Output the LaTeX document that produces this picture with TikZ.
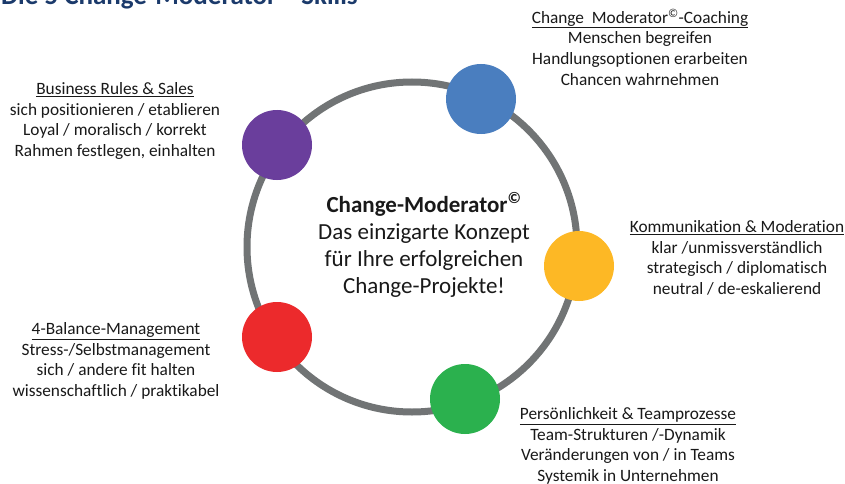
\documentclass[tikz,border=0pt]{standalone}
\usepackage{fontspec}
\setmainfont{Carlito}[Ligatures={NoCommon,TeX}]
\begin{document}
\begin{tikzpicture}[x=1pt,y=-1pt,
  dot/.style={circle,minimum size=70pt,inner sep=0pt},
  skill/.style={align=center,font=\fontsize{17.3}{20.6}\selectfont,text=black!90,inner sep=0pt},
  core/.style={align=center,font=\fontsize{23}{27.2}\selectfont,text=black!90,inner sep=0pt}]
\definecolor{ringgray}{HTML}{717475}
\definecolor{cpurple}{HTML}{6A3E9C}
\definecolor{cblue}{HTML}{4A7EBF}
\definecolor{cyellow}{HTML}{FDB825}
\definecolor{cred}{HTML}{EC2A2C}
\definecolor{cgreen}{HTML}{2BB14E}
\definecolor{titleblue}{HTML}{1B3A6B}
\clip (0,0) rectangle (845,484);
\useasboundingbox (0,0) rectangle (845,484);
\fill[white] (0,0) rectangle (845,484);

% heading, cut by the upper edge
\node[anchor=base west,inner sep=0pt,text=titleblue,font=\fontsize{27}{30}\selectfont\bfseries] (title) at (1,5) {Die 5 Change-Moderator\textsuperscript{©}-Skills};

% ring carrying the five skills
\node[circle,draw=ringgray,line width=7pt,minimum size=330pt,inner sep=0pt] (ring) at (412,247) {};

\node[dot,fill=cpurple] (purple) at (277,145) {};
\node[dot,fill=cblue]   (blue)   at (481,99)  {};
\node[dot,fill=cyellow] (yellow) at (579,266) {};
\node[dot,fill=cgreen]  (green)  at (465,399) {};
\node[dot,fill=cred]    (red)    at (277,337) {};

% centre statement
\node[core] (core) at (424,245) {\textbf{Change-Moderator\textsuperscript{©}}\\Das einzigarte Konzept\\für Ihre erfolgreichen\\Change-Projekte!};

% skill descriptions
\node[skill] (coaching) at (640,47) {\underline{Change\ \ Moderator\textsuperscript{©}-Coaching}\\Menschen begreifen\\Handlungsoptionen erarbeiten\\Chancen wahrnehmen};
\node[skill] (rules) at (115,121) {\underline{Business Rules \& Sales}\\sich positionieren / etablieren\\Loyal / moralisch / korrekt\\Rahmen festlegen, einhalten};
\node[skill] (komm) at (737,258) {\underline{Kommunikation \& Moderation}\\klar /unmissverständlich\\strategisch / diplomatisch\\neutral / de-eskalierend};
\node[skill] (balance) at (116,361) {\underline{4-Balance-Management}\\Stress-/Selbstmanagement\\sich / andere fit halten\\wissenschaftlich / praktikabel};
\node[skill] (team) at (628,446) {\underline{Persönlichkeit \& Teamprozesse}\\Team-Strukturen /-Dynamik\\Veränderungen von / in Teams\\Systemik in Unternehmen};
\end{tikzpicture}
\end{document}
